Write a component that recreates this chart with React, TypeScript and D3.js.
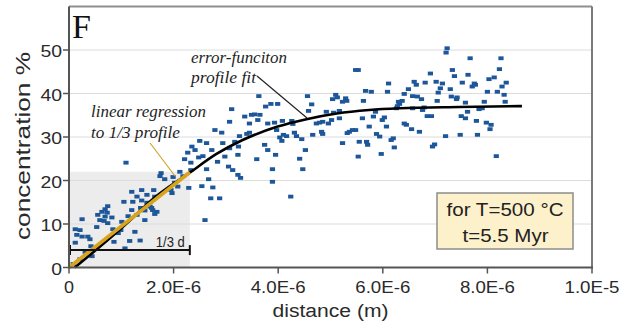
import React from "react";
import * as d3 from "d3";

// distance in micrometres (1e-6 m), concentration in %
const samples: [number, number][] = [
  [1.09,24.1],[2.21,24.9],[2.33,24.1],[1.76,21.7],[1.74,21.0],[1.83,20.3],[1.99,20.8],[2.12,22.0],[2.18,21.0],[2.33,22.4],
  [2.02,19.5],[2.08,18.6],[1.95,17.8],[1.97,17.1],[2.29,18.3],[1.20,17.4],[1.39,17.8],[1.62,17.8],[1.30,16.3],[1.49,16.7],
  [1.64,16.3],[1.05,15.1],[1.22,15.1],[1.39,15.4],[1.49,14.9],[1.55,14.0],[1.60,13.2],[1.68,12.8],[1.45,13.1],[1.37,13.7],
  [1.20,13.2],[1.30,12.1],[1.45,10.9],[1.64,12.3],[1.58,13.7],[1.13,11.8],[1.01,10.5],[0.74,14.1],[0.69,13.4],[0.63,12.8],
  [0.73,12.6],[0.69,11.7],[0.55,12.1],[0.59,10.9],[0.67,10.7],[0.82,11.5],[0.74,10.2],[0.25,11.1],[0.53,9.3],[0.84,8.8],
  [0.94,7.9],[0.99,8.6],[1.26,8.2],[0.12,8.8],[0.21,8.6],[0.15,7.5],[0.25,7.1],[0.36,7.1],[0.40,6.5],[0.12,5.7],
  [0.42,4.9],[0.86,5.9],[1.16,6.1],[1.36,6.2],[1.07,4.4],[0.31,3.6],[0.44,2.6],[0.21,1.9],[0.08,0.8],
  [3.63,39.4],[3.86,37.6],[3.76,37.0],[3.99,37.6],[3.11,36.4],[3.36,34.7],[3.49,35.1],[3.55,35.2],[3.65,35.1],[3.07,33.5],
  [3.45,33.1],[3.61,33.9],[3.80,33.1],[3.93,33.3],[2.79,31.6],[2.92,31.0],[3.40,30.7],[3.45,31.0],[3.26,30.2],[2.50,29.1],
  [2.63,28.6],[2.94,28.6],[3.17,28.9],[2.35,27.8],[2.41,27.0],[2.73,27.0],[3.07,27.4],[3.24,27.8],[3.74,28.2],[3.80,27.0],
  [3.95,25.9],[2.27,26.4],[2.56,25.6],[2.84,24.3],[2.98,25.5],[3.23,25.9],[3.59,24.9],[2.48,25.3],[2.63,22.6],[3.05,23.2],
  [3.13,22.4],[3.23,21.3],[3.28,20.6],[3.89,22.6],[2.67,20.3],[2.54,18.7],[2.75,18.4],[2.71,15.9],[2.88,15.9],[3.89,19.7],
  [2.60,10.9],
  [5.48,45.4],[5.53,45.4],[6.11,42.3],[5.67,40.6],[5.78,40.4],[6.09,40.4],[4.56,39.4],[5.10,39.7],[5.04,38.7],[5.13,39.1],
  [5.29,38.9],[5.23,38.1],[5.31,38.3],[5.63,38.3],[4.64,37.5],[4.58,36.0],[4.92,35.8],[5.06,35.6],[5.17,36.0],[5.86,35.8],
  [6.30,38.1],[4.08,33.7],[4.26,33.7],[4.28,33.0],[4.73,33.1],[4.79,33.3],[4.85,33.5],[5.02,33.9],[4.96,33.1],[5.17,34.3],
  [5.61,34.3],[5.82,34.7],[6.03,34.5],[5.99,33.9],[3.97,31.6],[4.10,30.5],[4.16,30.2],[4.31,31.0],[4.35,30.2],[4.03,29.9],
  [4.45,29.5],[4.66,30.5],[4.83,31.2],[4.85,30.7],[5.36,31.2],[5.42,31.6],[5.48,31.6],[5.32,30.9],[5.74,32.4],[5.88,30.7],
  [5.94,30.1],[6.07,32.4],[6.20,29.7],[6.16,29.3],[4.07,29.1],[5.23,28.6],[5.55,28.9],[5.69,28.9],[5.71,28.2],[6.22,27.6],
  [4.52,27.0],[4.41,25.0],[5.53,25.5],[5.97,26.1],[4.47,22.6],[4.24,16.3],
  [7.23,50.4],[7.21,49.4],[7.67,48.1],[8.26,48.1],[8.23,45.6],[6.91,44.6],[7.33,45.4],[7.37,44.0],[7.63,44.3],[8.13,43.7],
  [8.03,43.3],[6.60,42.7],[6.64,42.0],[6.81,42.5],[7.02,42.7],[7.14,42.3],[7.52,42.5],[7.75,42.3],[7.71,41.6],[7.77,42.0],
  [8.36,42.5],[8.28,41.6],[6.49,41.0],[7.10,41.2],[7.06,40.2],[7.29,41.0],[8.00,40.4],[8.19,40.4],[6.41,39.9],[6.57,39.4],
  [6.66,39.3],[6.74,38.7],[7.31,39.3],[7.42,39.1],[7.41,38.7],[8.32,39.7],[6.37,38.3],[7.04,38.3],[7.58,37.9],[7.94,38.1],
  [8.34,38.1],[6.32,37.6],[6.28,37.1],[6.26,36.6],[6.57,36.6],[6.76,36.2],[6.79,36.8],[7.62,35.8],[7.84,36.4],[7.90,36.6],
  [6.85,34.8],[6.93,34.8],[7.50,34.8],[7.58,34.3],[6.41,33.1],[6.45,32.8],[7.79,33.7],[7.98,33.3],[8.07,32.8],[6.55,31.8],
  [6.70,31.2],[8.05,31.8],[7.20,30.2],[7.48,30.5],[7.81,30.5],[6.99,28.3],[6.95,27.8],[8.17,25.6],
];

const fitX = [0.11, 1.2, 1.55, 2.31, 2.82, 3.32, 3.99, 4.54, 5.12, 5.74, 6.32, 7.46, 8.66];
const fitY = [0, 11.2, 15.2, 21.8, 26.1, 29.3, 32.4, 34.1, 35.4, 36.2, 36.6, 36.9, 37.1];

const regX = [0, 2.31];
const regY = [0, 21.9];

const thirdDist = 2.31;
const thirdConc = 22;
const barConc = 4;

const xTicks = [0, 2, 4, 6, 8, 10];
const xTickLabels = ["0", "2.0E-6", "4.0E-6", "6.0E-6", "8.0E-6", "1.0E-5"];
const yTicks = [0, 10, 20, 30, 40, 50];
const yTickLabels = ["0", "10", "20", "30", "40", "50"];

const SANS = "'Liberation Sans', Arial, sans-serif";
const SERIF = "'Liberation Serif', 'Times New Roman', serif";

export default function App() {
  const x = d3.scaleLinear().domain([0, 10]).range([69, 592]);
  const y = d3.scaleLinear().domain([0, 60]).range([267.5, 6.5]);
  const left = x(0), right = x(10), top = y(60), bottom = y(0);

  const fitLine = d3
    .line<number>()
    .x((_, i) => x(fitX[i]))
    .y((d) => y(d))
    .curve(d3.curveMonotoneX)(fitY) as string;
  const regLine = d3
    .line<number>()
    .x((_, i) => x(regX[i]))
    .y((d) => y(d))(regY) as string;

  return (
    <div style={{ position: "fixed", left: 0, top: 0 }}>
      <svg width={626} height={328} style={{ display: "block", background: "#fff" }}>
        {/* shaded 1/3 region */}
        <rect x={left} y={y(thirdConc)} width={x(thirdDist) - left} height={bottom - y(thirdConc)} fill="#ececec" />
        {/* grid */}
        {yTicks.slice(1).map((t) => (
          <line key={t} x1={left} x2={right} y1={y(t)} y2={y(t)} stroke="#dcdcdc" strokeWidth={1} />
        ))}
        {/* points */}
        {samples.map((d, i) => (
          <rect key={i} x={x(d[0]) - 2.6} y={y(d[1]) - 1.9} width={5.2} height={3.8} fill="#1d5799" />
        ))}
        {/* fit curve */}
        <path d={fitLine} fill="none" stroke="#000" strokeWidth={2.6} />
        {/* regression */}
        <path d={regLine} fill="none" stroke="#d8a41c" strokeWidth={3.6} />
        {/* leaders */}
        <line x1={150} y1={143} x2={175} y2={176} stroke="#d2a52a" strokeWidth={1.2} />
        <line x1={257} y1={76} x2={307} y2={118} stroke="#222" strokeWidth={1.2} />
        {/* 1/3 d bar */}
        <line x1={left} x2={x(thirdDist)} y1={y(barConc)} y2={y(barConc)} stroke="#111" strokeWidth={2} />
        <line x1={left + 1} x2={left + 1} y1={y(barConc) - 5} y2={y(barConc) + 5} stroke="#111" strokeWidth={2} />
        <line x1={x(thirdDist)} x2={x(thirdDist)} y1={y(barConc) - 5} y2={y(barConc) + 5} stroke="#111" strokeWidth={2} />
        <text x={x(thirdDist) - 5} y={y(barConc) - 3.5} textAnchor="end" fontFamily={SANS} fontSize={14} fill="#222"
          textLength={29} lengthAdjust="spacingAndGlyphs">1/3 d</text>

        {/* frame */}
        <line x1={left} x2={right} y1={top} y2={top} stroke="#8e8e8e" strokeWidth={2} />
        <line x1={right} x2={right} y1={top} y2={bottom} stroke="#7a7a7a" strokeWidth={2} />
        <line x1={left} x2={left} y1={top} y2={bottom} stroke="#555" strokeWidth={2} />
        <line x1={left - 1} x2={right + 1} y1={bottom} y2={bottom} stroke="#555" strokeWidth={2} />

        {/* y axis ticks */}
        {yTicks.map((t, i) => (
          <g key={t}>
            <line x1={left - 6} x2={left} y1={y(t)} y2={y(t)} stroke="#555" strokeWidth={1.5} />
            <text x={62} y={y(t) + 7} textAnchor="end" fontFamily={SANS} fontSize={17} fill="#2a2a2a"
              textLength={yTickLabels[i].length * 10.8} lengthAdjust="spacingAndGlyphs">{yTickLabels[i]}</text>
          </g>
        ))}
        {/* x axis ticks */}
        {xTicks.map((t, i) => (
          <g key={t}>
            <line x1={x(t)} x2={x(t)} y1={bottom} y2={bottom + 6} stroke="#555" strokeWidth={1.5} />
            <text x={x(t)} y={292.5} textAnchor="middle" fontFamily={SANS} fontSize={17} fill="#2a2a2a"
              textLength={xTickLabels[i].length > 1 ? 55 : 10} lengthAdjust="spacingAndGlyphs">{xTickLabels[i]}</text>
          </g>
        ))}
        <text x={(left + right) / 2} y={317} textAnchor="middle" fontFamily={SANS} fontSize={18} fill="#2a2a2a"
          textLength={116} lengthAdjust="spacingAndGlyphs">distance (m)</text>
        <text transform={`translate(30,146) rotate(-90)`} textAnchor="middle" fontFamily={SANS} fontSize={19.5} fill="#2a2a2a"
          textLength={188} lengthAdjust="spacingAndGlyphs">concentration %</text>

        {/* panel letter */}
        <text x={72} y={38} fontFamily={SERIF} fontSize={34} fill="#111">F</text>

        {/* annotations */}
        <text x={191} y={63} fontFamily={SERIF} fontStyle="italic" fontSize={16.5} fill="#1e1e1e"
          textLength={96} lengthAdjust="spacingAndGlyphs">error-funciton</text>
        <text x={191} y={83} fontFamily={SERIF} fontStyle="italic" fontSize={16.5} fill="#1e1e1e"
          textLength={65} lengthAdjust="spacingAndGlyphs">profile fit</text>
        <text x={91} y={117} fontFamily={SERIF} fontStyle="italic" fontSize={16.5} fill="#1e1e1e"
          textLength={115} lengthAdjust="spacingAndGlyphs">linear regression</text>
        <text x={91} y={138} fontFamily={SERIF} fontStyle="italic" fontSize={16.5} fill="#1e1e1e"
          textLength={89} lengthAdjust="spacingAndGlyphs">to 1/3 profile</text>

        {/* condition box */}
        <rect x={437} y={193} width={136} height={56} fill="#fdf1cc" stroke="#8c8c8c" strokeWidth={1.5} />
        <text x={505} y={216} textAnchor="middle" fontFamily={SANS} fontSize={18} fill="#222"
          textLength={117} lengthAdjust="spacingAndGlyphs">for T=500 °C</text>
        <text x={505.5} y={242} textAnchor="middle" fontFamily={SANS} fontSize={18} fill="#222"
          textLength={86} lengthAdjust="spacingAndGlyphs">t=5.5 Myr</text>
      </svg>
    </div>
  );
}
